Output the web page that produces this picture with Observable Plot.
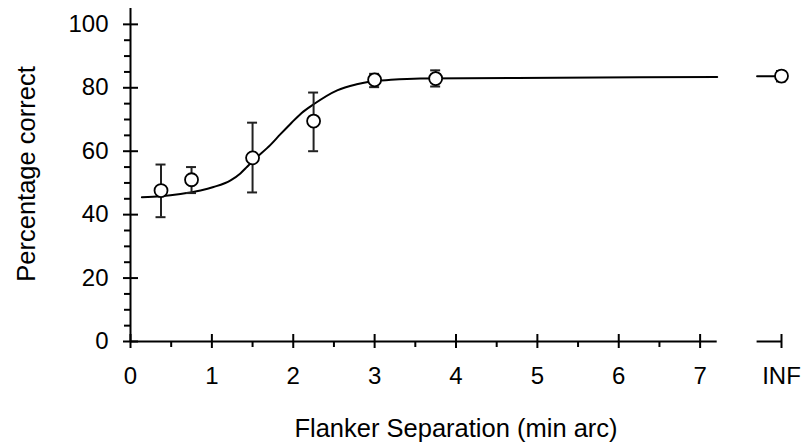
<!DOCTYPE html>
<html>
<head>
<meta charset="utf-8">
<script src="https://cdn.jsdelivr.net/npm/d3@7"></script>
<script src="https://cdn.jsdelivr.net/npm/@observablehq/plot@0.6"></script>
<style>
  html, body { margin: 0; padding: 0; background: #fff; }
</style>
</head>
<body>
<div id="chart"></div>
<script>
// Observed data (x = flanker separation in min arc; 8 stands for INF)
const separations = [0.375, 0.75, 1.5, 2.25, 3, 3.75, 8];
const pctCorrect   = [47.6, 51.0, 57.9, 69.5, 82.5, 82.9, 83.7];
const errLow       = [39.2, 46.8, 47.0, 60.0, 80.2, 80.4, 82.0];
const errHigh      = [55.8, 55.0, 69.0, 78.5, 84.4, 85.5, 85.3];

// Fitted curve
const fitX = [0.14, 0.375, 0.614, 0.86, 1.02, 1.23, 1.35, 1.43, 1.51, 1.72, 1.84, 1.965, 2.1, 2.25, 2.54, 2.78, 2.95, 3.2, 3.56, 4.75, 7.21];
const fitY = [45.5, 45.8, 46.5, 47.6, 48.7, 50.8, 53.0, 55.0, 57.1, 62.0, 65.3, 68.6, 72.0, 74.8, 79.2, 81.1, 82.0, 82.5, 82.9, 83.1, 83.4];
// Short asymptote segment at INF
const infFitX = [7.7, 8];
const infFitY = [83.6, 83.6];

// Axis ticks
const xMajor = [0, 1, 2, 3, 4, 5, 6, 7, 8];
const xLabels = ["0", "1", "2", "3", "4", "5", "6", "7", "INF"];
const xMinor = [0.5, 1.5, 2.5, 3.5, 4.5, 5.5, 6.5];
const yMajor = [0, 20, 40, 60, 80, 100];
const yMinor = [5, 10, 15, 25, 30, 35, 45, 50, 55, 65, 70, 75, 85, 90, 95];
const xAxisSegments = [[0, 7.21], [7.7, 8]];
const yAxisExtent = [0, 105];

const points = separations.map((x, i) => ({x, y: pctCorrect[i], lo: errLow[i], hi: errHigh[i]}));
const fit = fitX.map((x, i) => ({x, y: fitY[i]}));
const infFit = infFitX.map((x, i) => ({x, y: infFitY[i]}));
const xLabelData = xMajor.map((x, i) => ({x, label: xLabels[i]}));

const chart = Plot.plot({
  width: 802,
  height: 442,
  marginLeft: 130,
  marginRight: 21,
  marginTop: 8,
  marginBottom: 101,
  x: {domain: [0, 8], axis: null},
  y: {domain: [yAxisExtent[0], yAxisExtent[1]], axis: null},
  style: {fontFamily: "'Liberation Sans', Arial, sans-serif", fontSize: "24px", color: "#000", background: "#fff"},
  marks: [
    // axis lines
    Plot.ruleY(xAxisSegments, {x1: d => d[0], x2: d => d[1], y: () => 0, stroke: "#000", strokeWidth: 2}),
    Plot.ruleX([0], {x: d => d, y1: () => yAxisExtent[0], y2: () => yAxisExtent[1], stroke: "#000", strokeWidth: 2}),
    // x ticks
    Plot.ruleX(xMajor, {x: d => d, y1: () => 0, y2: () => 0, insetTop: -7, insetBottom: -7, stroke: "#000", strokeWidth: 2}),
    Plot.ruleX(xMinor, {x: d => d, y1: () => 0, y2: () => 0, insetTop: 0, insetBottom: -6, stroke: "#000", strokeWidth: 2}),
    // y ticks
    Plot.ruleY(yMajor, {y: d => d, x1: () => 0, x2: () => 0, insetLeft: -7, insetRight: -8, stroke: "#000", strokeWidth: 2}),
    Plot.ruleY(yMinor, {y: d => d, x1: () => 0, x2: () => 0, insetLeft: -6, insetRight: 0, stroke: "#000", strokeWidth: 2}),
    // tick labels
    Plot.text(xLabelData, {x: "x", frameAnchor: "bottom", text: "label", textAnchor: "middle", lineAnchor: "top", dy: 25, fontSize: 24, fill: "#000"}),
    Plot.text(yMajor, {y: d => d, frameAnchor: "left", text: d => String(d), textAnchor: "end", lineAnchor: "middle", dx: -22, fontSize: 24, fill: "#000"}),
    // axis titles
    Plot.text(["Percentage correct"], {frameAnchor: "left", text: d => d, rotate: -90, textAnchor: "middle", lineAnchor: "middle", dx: -104, dy: -1, fontSize: 25.5, fill: "#000"}),
    Plot.text(["Flanker Separation (min arc)"], {frameAnchor: "bottom", text: d => d, textAnchor: "middle", lineAnchor: "middle", dy: 87, fontSize: 25.5, fill: "#000"}),
    // fitted curve
    Plot.line(fit, {x: "x", y: "y", curve: "monotone-x", stroke: "#000", strokeWidth: 2}),
    Plot.line(infFit, {x: "x", y: "y", stroke: "#000", strokeWidth: 2}),
    // error bars
    Plot.ruleX(points, {x: "x", y1: "lo", y2: "hi", stroke: "#222", strokeWidth: 2}),
    Plot.ruleY(points, {y: "lo", x1: "x", x2: "x", insetLeft: -5, insetRight: -5, stroke: "#222", strokeWidth: 2}),
    Plot.ruleY(points, {y: "hi", x1: "x", x2: "x", insetLeft: -5, insetRight: -5, stroke: "#222", strokeWidth: 2}),
    // points
    Plot.dot(points, {x: "x", y: "y", r: 6.5, fill: "#fff", stroke: "#000", strokeWidth: 1.8})
  ]
});
document.getElementById("chart").appendChild(chart);
</script>
</body>
</html>
